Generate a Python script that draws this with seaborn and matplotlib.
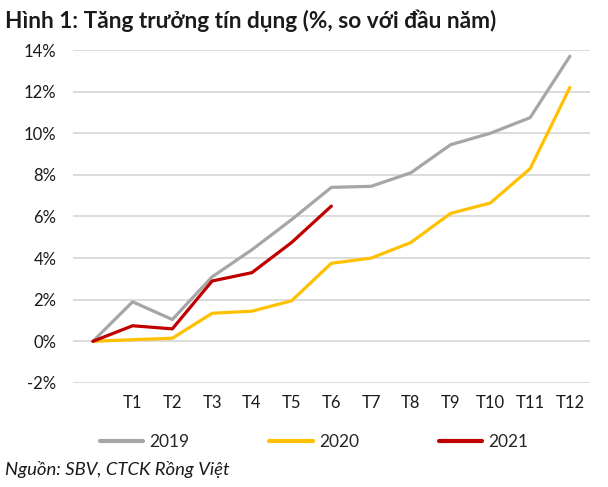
import matplotlib
matplotlib.use("Agg")
import matplotlib.pyplot as plt
import seaborn as sns
import pandas as pd
import numpy as np

categories = ["", "T1", "T2", "T3", "T4", "T5", "T6", "T7", "T8", "T9", "T10", "T11", "T12"]
y2019 = [0, 1.9, 1.05, 3.1, 4.4, 5.85, 7.4, 7.45, 8.1, 9.45, 10.0, 10.75, 13.7]
y2020 = [0, 0.08, 0.15, 1.35, 1.45, 1.95, 3.75, 4.0, 4.75, 6.15, 6.65, 8.3, 12.2]
y2021 = [0, 0.75, 0.6, 2.9, 3.3, 4.75, 6.5]
yticks = [-2, 0, 2, 4, 6, 8, 10, 12, 14]

rows = []
for name, vals in [("2019", y2019), ("2020", y2020), ("2021", y2021)]:
    for i, v in enumerate(vals):
        rows.append({"x": i, "value": v, "year": name})
df = pd.DataFrame(rows)

sns.set_theme(style="white")
plt.rcParams["font.family"] = ["Lato", "DejaVu Sans"]

fig = plt.figure(figsize=(6.08, 4.87), dpi=100)
ax = fig.add_axes([0.120, 0.2136, 0.850, 0.6837])

palette = {"2019": "#A6A6A6", "2020": "#FFC000", "2021": "#C00000"}
sns.lineplot(data=df, x="x", y="value", hue="year", palette=palette, ax=ax,
             linewidth=2.3, solid_capstyle="round", solid_joinstyle="round")

ax.set_xlim(-0.5, len(categories) - 0.5)
ax.set_ylim(-2, 14)
ax.set_yticks(yticks)
ax.set_yticklabels([f"{t}%" for t in yticks])
ax.set_xticks(range(len(categories)))
ax.set_xticklabels(categories)
ax.yaxis.grid(True, color="#D9D9D9", linewidth=1.3)
ax.xaxis.grid(False)
for s in ax.spines.values():
    s.set_visible(False)
ax.tick_params(axis="both", length=0, labelsize=12, colors="#1a1a1a")
ax.tick_params(axis="y", pad=12)
ax.tick_params(axis="x", pad=9)
ax.set_xlabel("")
ax.set_ylabel("")

leg = ax.legend(loc="center left", bbox_to_anchor=(0.052, -0.178), ncol=3, frameon=False,
                fontsize=12.5, handlelength=2.5, columnspacing=4.6, handletextpad=0.35,
                borderaxespad=0, borderpad=0)
for h in leg.get_lines():
    h.set_linewidth(3)

fig.text(0.008, 0.958, "Hình 1: Tăng trưởng tín dụng (%, so với đầu năm)", fontsize=16.3,
         fontweight="bold", ha="left", va="center", color="#1a1a1a")
fig.text(0.008, 0.035, "Nguồn: SBV, CTCK Rồng Việt", fontsize=13.3, style="italic",
         ha="left", va="center", color="#1a1a1a")

fig.savefig("out.png", dpi=100)
